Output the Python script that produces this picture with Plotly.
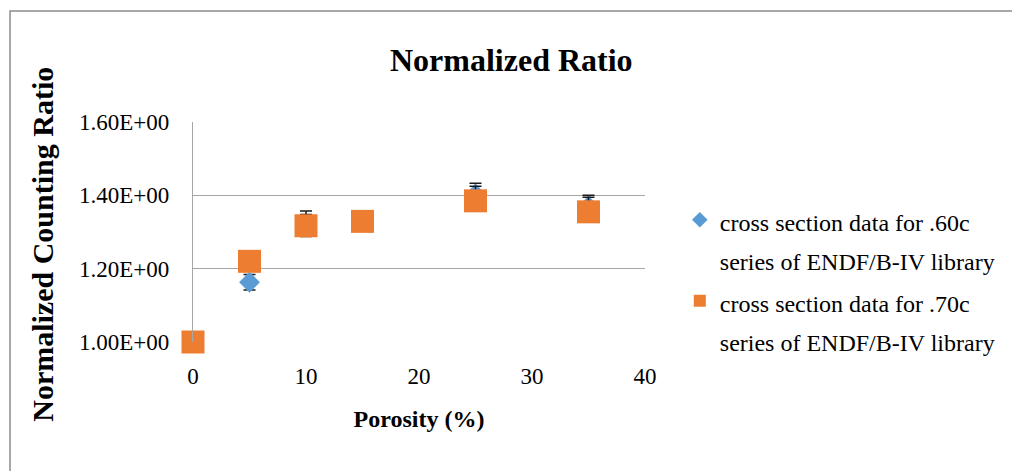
import plotly.graph_objects as go

# Porosity (%) of each sample
porosity = [0, 5, 10, 15, 25, 35]

# Normalized counting ratio for the two cross-section libraries
ratio_60c = [1.00, 1.163, 1.318, 1.330, 1.403, 1.370]
ratio_70c = [1.00, 1.220, 1.317, 1.329, 1.385, 1.355]

# Uncertainties on the ratios (the .70c bars are drawn upward only)
err_60c = [0.0, 0.021, 0.030, 0.010, 0.030, 0.030]
err_70c = [0.0, 0.020, 0.040, 0.010, 0.040, 0.040]
err_70c_minus = [0.0, 0.0, 0.0, 0.0, 0.0, 0.0]

series_lines = [
    ["cross section data for .60c", "series of ENDF/B-IV library"],
    ["cross section data for .70c", "series of ENDF/B-IV library"],
]

y_tickvals = [1.0, 1.2, 1.4, 1.6]
y_ticktext = ["1.00E+00", "1.20E+00", "1.40E+00", "1.60E+00"]
x_tickvals = [0, 10, 20, 30, 40]

SERIF = "Liberation Serif, Times New Roman, serif"
BLUE = "#5b9bd5"
ORANGE = "#ed7d31"
GRID = "#a6a6a6"


def legend_label(lines):
    # Smaller glyphs inside a taller line box, for roomier two-line entries
    return "<br>".join(f'<span style="font-size:24px">{s}</span>' for s in lines)


fig = go.Figure()

fig.add_trace(go.Scatter(
    x=porosity, y=ratio_60c, mode="markers", name=legend_label(series_lines[0]),
    marker=dict(symbol="diamond", size=16, color=BLUE, line=dict(width=0)),
    error_y=dict(type="data", array=err_60c, visible=True,
                 color="#1a1a1a", thickness=1.5, width=6),
    cliponaxis=False,
))
fig.add_trace(go.Scatter(
    x=porosity, y=ratio_70c, mode="markers", name=legend_label(series_lines[1]),
    marker=dict(symbol="square", size=23, color=ORANGE, line=dict(width=0)),
    error_y=dict(type="data", symmetric=False, array=err_70c,
                 arrayminus=err_70c_minus, visible=True,
                 color="#1a1a1a", thickness=1.5, width=6),
    cliponaxis=False,
))

fig.update_layout(
    width=1012, height=471, autosize=False,
    margin=dict(l=193, r=362, t=122, b=129),
    paper_bgcolor="white", plot_bgcolor="white",
    font=dict(family=SERIF, color="#000000", size=23),
    showlegend=True,
    legend=dict(
        x=1.077, y=0.674, xanchor="left", yanchor="top",
        font=dict(family=SERIF, size=30, color="#000000"),
        itemsizing="constant", valign="top",
        tracegroupgap=0, bgcolor="rgba(0,0,0,0)",
    ),
    xaxis=dict(
        range=[0, 40], tickvals=x_tickvals, showgrid=False, zeroline=False,
        showline=False, ticks="", ticklabelstandoff=18,
        tickfont=dict(family=SERIF, size=23),
        title=dict(text="Porosity (%)", standoff=22,
                   font=dict(family=SERIF, size=24, weight="bold")),
    ),
    yaxis=dict(
        range=[1.0, 1.6], tickvals=y_tickvals, ticktext=y_ticktext,
        showgrid=True, gridcolor=GRID, gridwidth=1.3, zeroline=False,
        showline=True, linecolor=GRID, linewidth=1.3, ticks="",
        ticklabelstandoff=18,
        tickfont=dict(family=SERIF, size=23),
    ),
    annotations=[
        dict(
            text="Normalized Ratio", xref="paper", yref="paper",
            x=0.7046, y=1.282, xanchor="center", yanchor="middle",
            showarrow=False,
            font=dict(family=SERIF, size=32, weight="bold", color="#000000"),
        ),
        dict(
            text="Normalized Counting Ratio", xref="paper", yref="paper",
            x=-0.3348, y=0.445, xanchor="center", yanchor="middle",
            textangle=-90, showarrow=False,
            font=dict(family=SERIF, size=30, weight="bold", color="#000000"),
        ),
    ],
    shapes=[dict(
        type="rect", xref="paper", yref="paper",
        x0=-0.4048, x1=1.85, y0=-0.65, y1=1.5045,
        line=dict(color="#8c8c8c", width=1.5), layer="below",
    )],
)

fig.write_html("out.html")
